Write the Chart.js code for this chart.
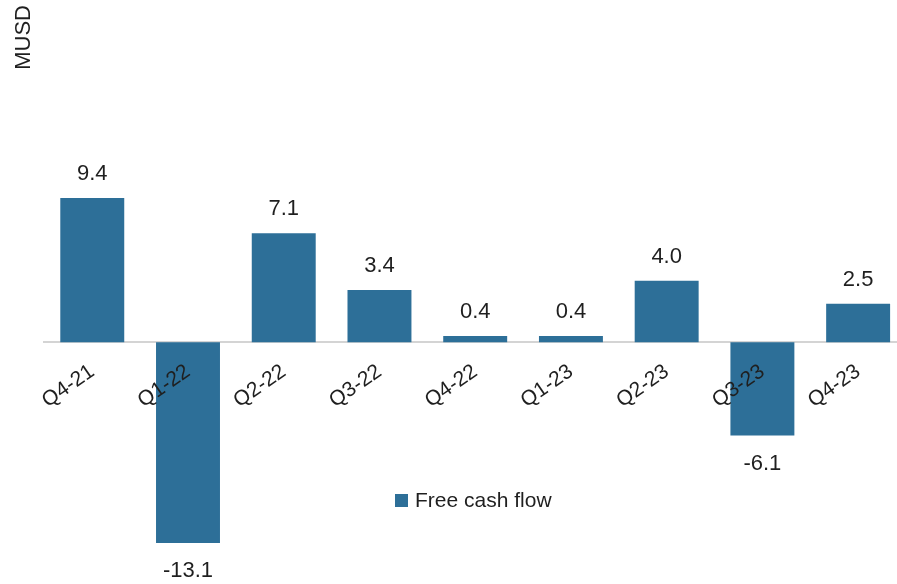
<!DOCTYPE html>
<html>
<head>
<meta charset="utf-8">
<script src="https://cdn.jsdelivr.net/npm/chart.js@4/dist/chart.umd.min.js"></script>
<style>
  html, body { margin: 0; padding: 0; background: #fff; overflow: hidden; }
  #wrap { position: relative; width: 897px; height: 584px; overflow: hidden; }
  #box { position: absolute; left: 0; top: 0; width: 910px; height: 584px; }
  #legend {
    position: absolute; left: 395px; top: 488px;
    font-family: "Liberation Sans", Arial, sans-serif; font-size: 21px; color: #1f1f1f;
    display: flex; align-items: center;
  }
  #legend span.sw { display: inline-block; width: 13px; height: 13px; background: #2d6f98; margin-right: 7px; }
</style>
</head>
<body>
<div id="wrap">
  <div id="box"><canvas id="chart"></canvas></div>
  <div id="legend"><span class="sw"></span>Free cash flow</div>
</div>
<script>
const quarters = ["Q4-21", "Q1-22", "Q2-22", "Q3-22", "Q4-22", "Q1-23", "Q2-23", "Q3-23", "Q4-23"];
const freeCashFlow = [9.4, -13.1, 7.1, 3.4, 0.4, 0.4, 4.0, -6.1, 2.5];

const barColor = "#2d6f98";
const textColor = "#1f1f1f";
const fontFamily = "'Liberation Sans', Arial, sans-serif";

// value labels above positive bars, below negative ones
const valueLabels = {
  id: "valueLabels",
  afterDatasetsDraw(chart) {
    const ctx = chart.ctx;
    const meta = chart.getDatasetMeta(0);
    ctx.save();
    ctx.font = "22px " + fontFamily;
    ctx.fillStyle = textColor;
    ctx.textAlign = "center";
    ctx.textBaseline = "middle";
    meta.data.forEach((bar, i) => {
      const v = freeCashFlow[i];
      const y = v >= 0 ? bar.y - 24 : bar.y + 28;
      ctx.fillText(v.toFixed(1), bar.x, y);
    });
    ctx.restore();
  }
};

new Chart(document.getElementById("chart"), {
  type: "bar",
  data: {
    labels: quarters,
    datasets: [{
      label: "Free cash flow",
      data: freeCashFlow,
      backgroundColor: barColor,
      barPercentage: 1,
      categoryPercentage: 0.668
    }]
  },
  options: {
    responsive: true,
    maintainAspectRatio: false,
    animation: false,
    layout: { padding: { top: 5, bottom: 12, left: 0, right: 4 } },
    plugins: {
      legend: { display: false },
      tooltip: { enabled: false }
    },
    scales: {
      x: {
        position: { y: 0 },
        grid: { display: false, drawTicks: false },
        border: { display: true, color: "#d4d4d4", width: 2 },
        ticks: {
          z: 1, // quarter labels sit on top of the negative bars
          color: textColor,
          font: { family: fontFamily, size: 21 },
          minRotation: 35,
          maxRotation: 35,
          padding: 17,
          labelOffset: 0
        }
      },
      y: {
        min: -15,
        max: 22,
        grid: { display: false, drawTicks: false },
        border: { display: false },
        ticks: { display: false },
        title: {
          display: true,
          text: "MUSD",
          align: "end",
          color: textColor,
          font: { family: fontFamily, size: 22 },
          padding: { top: 11, bottom: 7 }
        }
      }
    }
  },
  plugins: [valueLabels]
});
</script>
</body>
</html>
